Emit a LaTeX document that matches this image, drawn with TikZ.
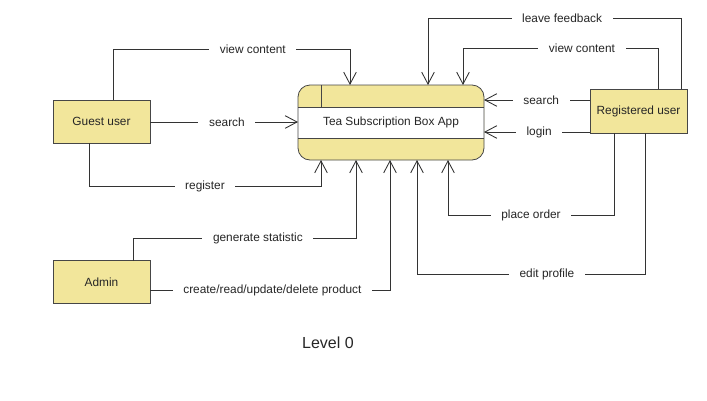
\documentclass[tikz,border=0pt]{standalone}
\usepackage{fontspec}
\setmainfont{Liberation Sans}
\usepackage[dvipsnames,svgnames]{xcolor}
\usetikzlibrary{arrows.meta}
\definecolor{BoxFill}{RGB}{242,230,155}
\definecolor{BoxLine}{RGB}{70,70,70}
\definecolor{FlowLine}{RGB}{51,51,51}

\begin{document}
\begin{tikzpicture}[x=0.75pt,y=-0.75pt,
 font=\fontsize{8.9}{10}\selectfont,text=black!85,
 entity/.style={draw=BoxLine,fill=BoxFill,line width=0.6pt,inner sep=0pt,
  outer sep=0pt,minimum width=72.75pt,minimum height=32.25pt},
 process/.style={draw=BoxLine,fill=BoxFill,line width=0.6pt,rounded corners=9pt,
  inner sep=0pt,outer sep=0pt,minimum width=139.5pt,minimum height=56.25pt,
  path picture={
   \fill[white,sharp corners] ([yshift=11.6pt]path picture bounding box.west)
    rectangle ([yshift=-11.6pt]path picture bounding box.east);
   \draw[BoxLine,line width=0.6pt,sharp corners]
    ([yshift=11.6pt]path picture bounding box.west) -- ([yshift=11.6pt]path picture bounding box.east)
    ([yshift=-11.6pt]path picture bounding box.west) -- ([yshift=-11.6pt]path picture bounding box.east)
    ([xshift=17.25pt]path picture bounding box.north west)
     -- ([xshift=17.25pt,yshift=11.6pt]path picture bounding box.west);
  }},
 flow/.style={draw=FlowLine,line width=0.65pt,
  -{Straight Barb[length=9pt,width=9.5pt]}},
 lbl/.style={fill=white,inner xsep=8pt,inner ysep=1pt}]

\useasboundingbox (0,0) rectangle (707,400);

\node[process] (app) at (391,122.5) {Tea Subscription Box App};
\node[entity] (guest) at (101.5,121.5) {Guest user};
\node[entity,minimum height=33pt] (reg) at (638.5,111) {Registered user};
\node[entity] (admin) at (101.5,282) {Admin};

\draw[flow] (guest.north -| 113,0) -- (113,49)
  -- node[lbl,pos=.59] (gview) {view content} (350,49) -- (app.north -| 350,0);
\draw[flow] (guest.east |- 0,122)
  -- node[lbl,pos=.52] (gsearch) {search} (app.west |- 0,122);
\draw[flow] (guest.south -| 89,0) -- (89,186)
  -- node[lbl,pos=.5] (greg) {register} (321,186) -- (app.south -| 321,0);

\draw[flow] (reg.north -| 681,0) -- (681,18)
  -- node[lbl,pos=.47] (rfeed) {leave feedback} (428,18) -- (app.north -| 428,0);
\draw[flow] (reg.north -| 658,0) -- (658,48)
  -- node[lbl,pos=.39] (rview) {view content} (463,48) -- (app.north -| 463,0);
\draw[flow] (reg.west |- 0,100)
  -- node[lbl,pos=.46] (rsearch) {search} (app.east |- 0,100);
\draw[flow] (reg.west |- 0,132)
  -- node[lbl,pos=.48] (rlogin) {login} (app.east |- 0,132);
\draw[flow] (reg.south -| 614,0) -- (614,215)
  -- node[lbl,pos=.5] (rorder) {place order} (448,215) -- (app.south -| 448,0);
\draw[flow] (reg.south -| 645,0) -- (645,274)
  -- node[lbl,pos=.43] (redit) {edit profile} (417,274) -- (app.south -| 417,0);

\draw[flow] (admin.north -| 133,0) -- (133,238)
  -- node[lbl,pos=.56] (astat) {generate statistic} (356,238) -- (app.south -| 356,0);
\draw[flow] (admin.east |- 0,290)
  -- node[lbl,pos=.51] (acrud) {create/read/update/delete product} (390,290)
  -- (app.south -| 390,0);

\node[font=\fontsize{12}{14}\selectfont] (level) at (328,343) {Level 0};
\end{tikzpicture}
\end{document}
